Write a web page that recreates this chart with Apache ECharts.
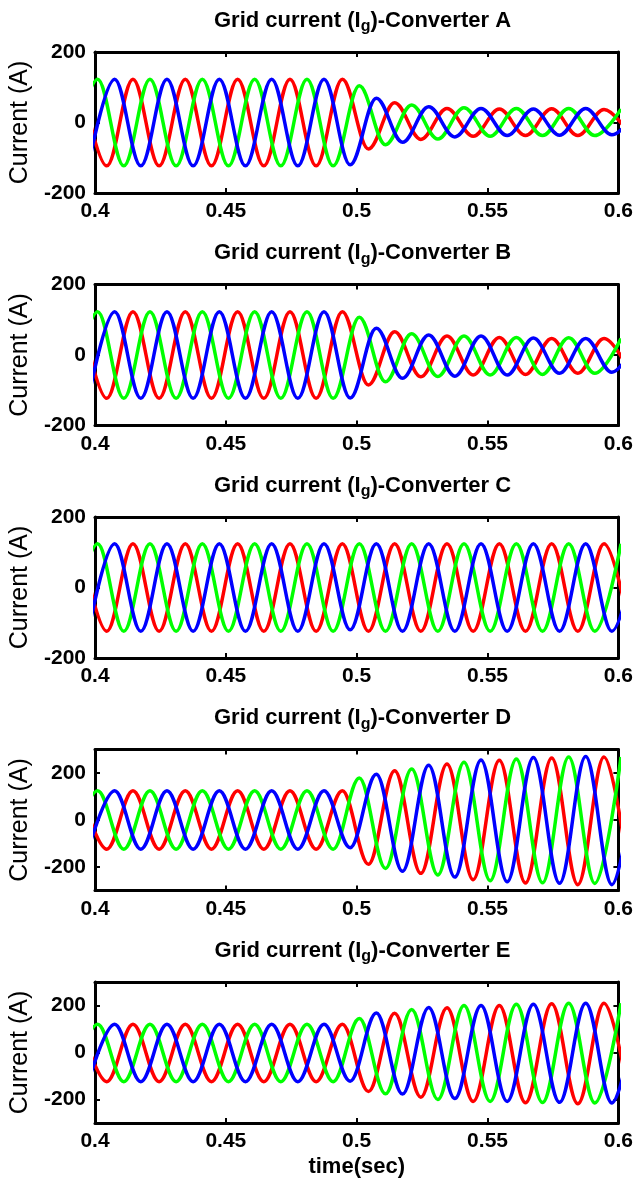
<!DOCTYPE html>
<html><head><meta charset="utf-8">
<script src="https://cdn.jsdelivr.net/npm/echarts@6/dist/echarts.min.js"></script>
<style>html,body{margin:0;padding:0;background:#fff}#c{width:636px;height:1182px}</style>
</head><body><div id="c"></div>
<script>
// ---- data (time of each peak/trough, value at it) ----
const panelLetters = ['A', 'B', 'C', 'D', 'E'];
const xTickValues = [0.4, 0.45, 0.5, 0.55, 0.6];
const yTickValues = [-200, 0, 200];
const yMinA = -200, yMaxA = 200;
const yMinD = -300, yMaxD = 300;
const xLabel = 'time(sec)';
const yLabel = 'Current (A)';

const tRed   = [0.3945,0.4045,0.4145,0.4245,0.4345,0.4445,0.4545,0.4645,0.4745,0.4845,0.4945,0.5045,0.5145,0.5245,0.5345,0.5445,0.5545,0.5645,0.5745,0.5845,0.5945,0.6045];
const tGreen = [0.3910,0.4010,0.4110,0.4210,0.4310,0.4410,0.4510,0.4610,0.4710,0.4810,0.4910,0.5010,0.5110,0.5210,0.5310,0.5410,0.5510,0.5610,0.5710,0.5810,0.5910,0.6010];
const tBlue  = [0.3975,0.4075,0.4175,0.4275,0.4375,0.4475,0.4575,0.4675,0.4775,0.4875,0.4975,0.5075,0.5175,0.5275,0.5375,0.5475,0.5575,0.5675,0.5775,0.5875,0.5975,0.6075];

const redA   = [123,-123,123,-123,123,-123,123,-123,123,-123,123,-75,56,-48,40,-39,38,-37,39,-37,37,-36];
const greenA = [-123,123,-123,123,-123,123,-123,123,-123,123,-123,104,-63,50,-47,42,-39,40,-37,40,-37,38];
const blueA  = [-123,123,-123,123,-123,123,-123,123,-123,123,-120,69,-56,45,-41,40,-37,38,-36,40,-35,38];

const redB   = [123,-123,123,-123,123,-123,123,-123,123,-123,123,-85,66,-62,54,-57,50,-55,47,-52,47,-50];
const greenB = [-123,123,-123,123,-123,123,-123,123,-123,123,-123,107,-76,60,-61,54,-57,50,-55,49,-52,47];
const blueB  = [-123,123,-123,123,-123,123,-123,123,-123,123,-122,76,-66,57,-60,54,-57,48,-52,47,-49,47];

const redC   = [124,-124,124,-124,124,-124,124,-124,124,-124,124,-124,124,-124,124,-124,124,-124,124,-124,124,-124];
const greenC = [-124,124,-124,124,-124,124,-124,124,-124,124,-124,124,-124,124,-124,124,-124,124,-124,124,-124,124];
const blueC  = [-124,124,-124,124,-124,124,-124,124,-124,124,-120,124,-124,124,-124,124,-124,124,-124,124,-124,124];

const redD   = [124,-124,124,-124,124,-124,124,-124,124,-124,124,-188,210,-227,238,-254,254,-268,264,-275,268,-275];
const greenD = [-124,124,-124,124,-124,124,-124,124,-124,124,-124,179,-206,217,-234,246,-258,260,-267,268,-270,268];
const blueD  = [-124,124,-124,124,-124,124,-124,124,-124,124,-118,195,-218,233,-243,255,-263,266,-269,270,-275,270];

const redE   = [120,-124,120,-124,120,-124,120,-124,120,-124,120,-166,167,-190,190,-208,200,-214,207,-218,210,-220];
const greenE = [-124,120,-124,120,-124,120,-124,120,-124,120,-124,145,-176,183,-200,200,-208,205,-213,210,-215,210];
const blueE  = [-124,120,-124,120,-124,120,-124,120,-124,120,-122,168,-177,192,-196,200,-208,205,-212,210,-215,212];

const panelRed   = [redA, redB, redC, redD, redE];
const panelGreen = [greenA, greenB, greenC, greenD, greenE];
const panelBlue  = [blueA, blueB, blueC, blueD, blueE];
const panelYMin  = [yMinA, yMinA, yMinA, yMinD, yMinD];
const panelYMax  = [yMaxA, yMaxA, yMaxA, yMaxD, yMaxD];

// ---- layout / style ----
const FONT = '"Liberation Sans", Arial, sans-serif';
const chart = echarts.init(document.getElementById('c'), null, {renderer: 'canvas', width: 636, height: 1182});
const grids = [], xAxes = [], yAxes = [], series = [], titles = [];
const lineAxis = {show: true, onZero: false, lineStyle: {color: '#000', width: 3}};
const tickStyle = {show: true, inside: true, length: 5, lineStyle: {color: '#000', width: 2}};
const labelStyle = {color: '#000', fontFamily: FONT, fontWeight: 'bold', fontSize: 21};

panelLetters.forEach((letter, i) => {
  const top = 52 + 232.5 * i;
  grids.push({left: 95, right: 16, top: top, height: 141});
  titles.push({
    text: 'Grid current (I{s|g})-Converter ' + letter,
    left: 357.5, textAlign: 'center', top: top - 48,
    textStyle: {color: '#000', fontFamily: FONT, fontWeight: 'bold', fontSize: 22, lineHeight: 23,
      rich: {s: {color: '#000', fontFamily: FONT, fontWeight: 'bold', fontSize: 16, lineHeight: 16, padding: [13, 0, 0, 0]}}}
  });
  const xb = {
    type: 'value', gridIndex: i, position: 'bottom', min: 0.4, max: 0.6, interval: 0.05,
    axisLine: lineAxis, axisTick: tickStyle, splitLine: {show: false},
    axisLabel: Object.assign({margin: 8, showMinLabel: true, showMaxLabel: true}, labelStyle)
  };
  if (i === 4) {
    xb.name = xLabel; xb.nameLocation = 'middle'; xb.nameGap = 33;
    xb.nameTextStyle = {color: '#000', fontFamily: FONT, fontWeight: 'bold', fontSize: 22};
  }
  xAxes.push(xb);
  xAxes.push({
    type: 'value', gridIndex: i, position: 'top', min: 0.4, max: 0.6, interval: 0.05,
    axisLine: lineAxis, axisTick: tickStyle, splitLine: {show: false}, axisLabel: {show: false}
  });
  yAxes.push({
    type: 'value', gridIndex: i, position: 'left', min: panelYMin[i], max: panelYMax[i],
    axisLine: lineAxis, splitLine: {show: false},
    axisTick: Object.assign({customValues: yTickValues}, tickStyle),
    axisLabel: Object.assign({margin: 9, customValues: yTickValues}, labelStyle),
    name: yLabel, nameLocation: 'middle', nameGap: 48,
    nameTextStyle: {color: '#000', fontFamily: FONT, fontWeight: 'normal', fontSize: 25}
  });
  yAxes.push({
    type: 'value', gridIndex: i, position: 'right', min: panelYMin[i], max: panelYMax[i],
    axisLine: lineAxis, splitLine: {show: false},
    axisTick: Object.assign({customValues: yTickValues}, tickStyle),
    axisLabel: {show: false}
  });
  const mk = (times, vals, color, z) => ({
    type: 'line', xAxisIndex: 2 * i, yAxisIndex: 2 * i,
    data: times.map((t, k) => [t, vals[k]]),
    showSymbol: false, smooth: 0.36, smoothMonotone: 'x', clip: true, z: z,
    lineStyle: {color: color, width: 3.5}, itemStyle: {color: color}, silent: true
  });
  series.push(mk(tRed, panelRed[i], '#ff0000', 2));
  series.push(mk(tGreen, panelGreen[i], '#00ff00', 3));
  series.push(mk(tBlue, panelBlue[i], '#0000ff', 4));
});

chart.setOption({
  animation: false,
  backgroundColor: '#fff',
  title: titles,
  grid: grids,
  xAxis: xAxes,
  yAxis: yAxes,
  series: series
});
</script>
</body></html>
